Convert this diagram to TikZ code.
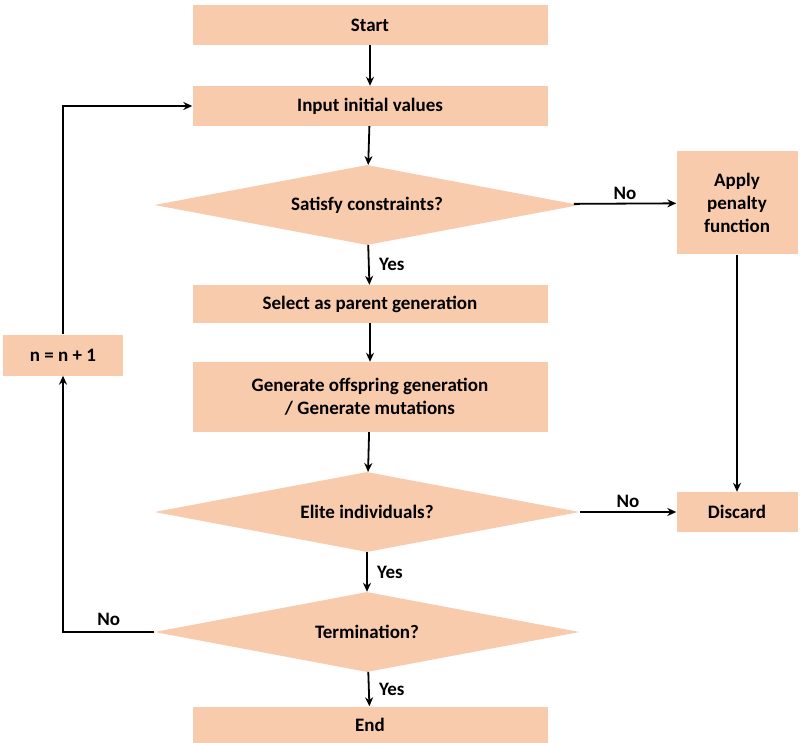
\documentclass[tikz,border=0pt]{standalone}
\usepackage{fontspec}
\setmainfont{Carlito}
\usetikzlibrary{shapes.geometric,arrows.meta}
\definecolor{boxc}{HTML}{F8CBAD}
\begin{document}
\begin{tikzpicture}[x=1pt,y=-1pt,
  every node/.style={font=\fontsize{19}{23}\selectfont\bfseries},
  box/.style={draw=none,fill=boxc,rectangle,minimum width=355pt,minimum height=40pt,align=center,inner sep=0pt},
  sbox/.style={draw=none,fill=boxc,rectangle,minimum width=121pt,align=center,inner sep=0pt},
  dia/.style={draw=none,fill=boxc,diamond,aspect=5.3,minimum width=425pt,minimum height=80pt,inner sep=0pt},
  arr/.style={draw=black,line width=1.8pt,-{Stealth[length=9pt,width=8pt]}},
  lab/.style={font=\fontsize{19}{23}\selectfont\bfseries}]
\useasboundingbox (0,0) rectangle (800,743);
\node[box] (start) at (370,25) {Start};
\node[box] (input) at (370,106) {Input initial values};
\node[dia] (sat) at (367,205) {Satisfy constraints?};
\node[sbox,minimum height=103pt] (pen) at (737,203) {Apply\\penalty\\function};
\node[box,minimum height=38pt] (sel) at (370,304) {Select as parent generation};
\node[box,minimum height=70pt] (gen) at (370,397) {Generate offspring generation\\/ Generate mutations};
\node[dia] (eli) at (367,512) {Elite individuals?};
\node[sbox,minimum height=40pt] (dis) at (737,512) {Discard};
\node[dia] (term) at (367,632) {Termination?};
\node[box,minimum height=37pt] (end) at (370,725) {End};
\node[sbox,minimum height=41pt,minimum width=120pt] (n) at (63,355) {n = n + 1};
\coordinate (c1) at (63,632);
\coordinate (c2) at (63,106);
\draw[arr] (start) -- (input);
\draw[arr] (input) -- (sat);
\draw[arr] (sat) -- node[lab,right,xshift=6pt]{Yes} (sel);
\draw[arr] (sat) -- node[lab,above,pos=0.5]{No} (pen);
\draw[arr] (sel) -- (gen);
\draw[arr] (gen) -- (eli);
\draw[arr] (eli) -- node[lab,above]{No} (dis);
\draw[arr] (pen) -- (dis);
\draw[arr] (eli) -- node[lab,right,xshift=6pt]{Yes} (term);
\draw[arr] (term) -- node[lab,right,xshift=6pt]{Yes} (end);
\draw[arr] (term.west) -- node[lab,above,yshift=2pt]{No} (c1) -- (n);
\draw[arr] (n) -- (c2) -- (input);
\end{tikzpicture}
\end{document}
